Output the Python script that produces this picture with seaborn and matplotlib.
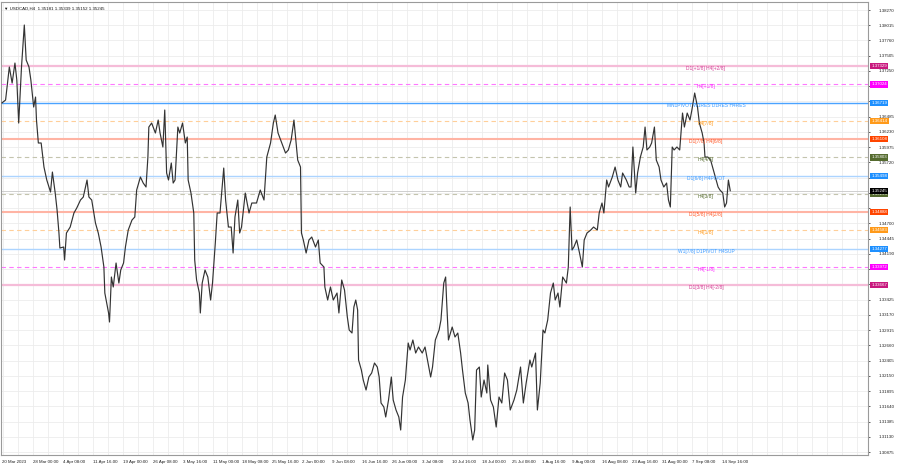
import matplotlib
matplotlib.use('Agg')
import matplotlib.pyplot as plt
import matplotlib.transforms as mtransforms
import seaborn as sns
import pandas as pd

# H4 bar number (0 = first bar on screen) and close
bars = [0, 4, 8, 11, 14, 16, 18, 21, 24, 26, 29, 31, 34, 36, 37, 39, 42, 45, 48, 52,
        54, 57, 59, 61, 62, 66, 67, 69, 73, 77, 80, 84, 87, 91, 93, 96, 100, 103, 106, 109,
        110, 114, 115, 117, 119, 122, 125, 127, 130, 132, 135, 139, 142, 144, 148, 151, 154, 156, 157, 160,
        164, 167, 169, 172, 174, 176, 178, 181, 183, 185, 188, 190, 193, 196, 198, 199, 202, 205, 206, 208,
        211, 212, 214, 217, 220, 223, 225, 228, 230, 233, 235, 237, 239, 242, 245, 247, 249, 252, 254, 256,
        260, 264, 267, 272, 276, 280, 283, 287, 290, 292, 295, 299, 303, 306, 309, 312, 314, 316, 319, 320,
        322, 325, 328, 331, 335, 338, 340, 344, 345, 348, 351, 354, 358, 360, 363, 366, 369, 371, 374, 376,
        378, 380, 381, 384, 386, 389, 392, 395, 398, 401, 403, 405, 408, 410, 413, 416, 418, 421, 424, 426,
        428, 431, 434, 436, 439, 442, 445, 449, 452, 454, 458, 460, 463, 467, 469, 472, 474, 475, 477, 481,
        484, 487, 490, 492, 495, 498, 500, 503, 505, 507, 510, 512, 515, 518,
        519, 522, 525, 528, 531, 534, 537, 540, 543, 547, 550, 554, 557, 560, 564, 566, 570, 572, 575, 578,
        580, 583, 586, 589, 591, 594, 596, 599, 603, 605, 607, 609, 611, 614, 617, 620, 622, 625, 629, 632,
        636, 638, 641, 643, 646, 648, 652, 655, 658, 661, 663, 667, 670, 672, 674, 677, 679, 682, 685, 687,
        689, 692, 694, 697, 699, 702, 704, 707, 710, 712, 714, 716, 718, 721, 724, 727, 729, 732, 735, 737,
        740, 743, 745, 748, 750, 751, 754, 757, 760, 762, 765, 767, 770, 772, 774, 776, 778]
closes = [1.36714, 1.36764, 1.37316, 1.37048, 1.37383, 1.37099, 1.36379, 1.37316, 1.38019, 1.37433,
          1.37316, 1.37099, 1.36647, 1.36814, 1.36429, 1.36045, 1.36045, 1.35643, 1.35426, 1.35225,
          1.35559, 1.35208, 1.34924, 1.34539, 1.34288, 1.34305, 1.34087, 1.34539, 1.34639, 1.34874,
          1.34957, 1.35091, 1.35141, 1.35426, 1.35141, 1.35091, 1.34706, 1.34539, 1.34305, 1.33970,
          1.33535, 1.33201, 1.33050, 1.33803, 1.33636, 1.34037, 1.33702, 1.33920, 1.34037, 1.34305,
          1.34589, 1.34756, 1.34807, 1.35258, 1.35476, 1.35375, 1.35309, 1.35810, 1.36312, 1.36379,
          1.36212, 1.36429, 1.36212, 1.35978, 1.36597, 1.35543, 1.35426, 1.35710, 1.35375, 1.35426,
          1.36312, 1.36212, 1.36379, 1.36045, 1.36145, 1.35426, 1.35208, 1.34874, 1.34087, 1.33753,
          1.33535, 1.33201, 1.33702, 1.33920, 1.33803, 1.33418, 1.33702, 1.34372, 1.34874, 1.34874,
          1.35258, 1.35626, 1.35091, 1.34639, 1.34639, 1.34204, 1.34807, 1.35091, 1.34539, 1.34639,
          1.35208, 1.34874, 1.35041, 1.35041, 1.35258, 1.35091, 1.35810, 1.36045, 1.36379, 1.36513,
          1.36212, 1.36045, 1.35877, 1.35928, 1.36095, 1.36429, 1.36095, 1.35760, 1.35643, 1.34539,
          1.34422, 1.34204, 1.34422, 1.34472, 1.34305, 1.34422, 1.34037, 1.33970, 1.33636, 1.33418,
          1.33636, 1.33418, 1.33535, 1.33201, 1.33753, 1.33585, 1.33134, 1.32916, 1.32866, 1.33301,
          1.33418, 1.33251, 1.32414, 1.32247, 1.32080, 1.31912, 1.32130, 1.32197, 1.32364, 1.32297,
          1.32130, 1.31695, 1.31628, 1.31461, 1.31745, 1.32130, 1.31745, 1.31578, 1.31461, 1.31243,
          1.31795, 1.32080, 1.32699, 1.32582, 1.32749, 1.32531, 1.32632, 1.32531, 1.32632, 1.32464,
          1.32130, 1.32297, 1.32749, 1.32916, 1.33083, 1.33702, 1.33803, 1.33418, 1.32749, 1.32966,
          1.32799, 1.32866, 1.32531, 1.32247, 1.31862, 1.31695, 1.31410, 1.31076, 1.31243, 1.32247,
          1.32297, 1.31795, 1.32080, 1.31862,
          1.32331, 1.31745, 1.31628, 1.31293, 1.31795, 1.31695, 1.32197, 1.32080, 1.31578, 1.31745,
          1.31912, 1.32297, 1.31695, 1.32029, 1.32414, 1.32297, 1.32531, 1.31578, 1.32029, 1.32916,
          1.32866, 1.33083, 1.33535, 1.33702, 1.33418, 1.33535, 1.33301, 1.33803, 1.33702, 1.33970,
          1.34974, 1.34255, 1.34305, 1.34422, 1.34204, 1.33970, 1.34422, 1.34539, 1.34589, 1.34639,
          1.34589, 1.34874, 1.35041, 1.34874, 1.35426, 1.35309, 1.35476, 1.35643, 1.35426, 1.35309,
          1.35543, 1.35426, 1.35309, 1.35309, 1.35978, 1.35208, 1.35543, 1.35810, 1.35978, 1.36312,
          1.35928, 1.35978, 1.36045, 1.36312, 1.35760, 1.35643, 1.35426, 1.35309, 1.35375, 1.35091,
          1.34974, 1.35978, 1.35928, 1.35978, 1.35928, 1.36546, 1.36312, 1.36546, 1.36429, 1.36597,
          1.36881, 1.36647, 1.36379, 1.36212, 1.36045, 1.35810, 1.35810, 1.35760, 1.35593, 1.35476,
          1.35309, 1.35258, 1.35208, 1.34974, 1.35041, 1.35426, 1.35245]

last_price = 1.35245
header = 'USDCAD,H4  1.35181 1.35339 1.35152 1.35245'

level_prices = [1.37329, 1.37024, 1.36719, 1.36414, 1.36108, 1.35803, 1.35498,
                1.35193, 1.34888, 1.34583, 1.34277, 1.33972, 1.33667]
level_names = ['D1[+1/8] H4[+2/8]', 'H4[+1/8]', 'MN1PIVOT W1RES D1RES H4RES', 'H4[7/8]',
               'D1[7/8] H4[6/8]', 'H4[4/8]', 'D1[6/8] H4PIVOT', 'H4[3/8]', 'D1[5/8] H4[2/8]',
               'H4[1/8]', 'W1[7/8] D1PIVOT H4SUP', 'H4[-1/8]', 'D1[3/8] H4[-2/8]']
level_kinds = ['pink', 'magenta', 'pivot', 'orange', 'red', 'olive', 'blue',
               'olive', 'red', 'orange', 'blue', 'magenta', 'pink']

date_labels = ['28 Mar 00:00', '4 Apr 08:00', '11 Apr 16:00', '19 Apr 00:00', '26 Apr 08:00',
               '3 May 16:00', '11 May 00:00', '18 May 08:00', '25 May 16:00', '2 Jun 00:00',
               '9 Jun 08:00', '16 Jun 16:00', '26 Jun 00:00', '3 Jul 08:00', '10 Jul 16:00',
               '18 Jul 00:00', '25 Jul 08:00', '1 Aug 16:00', '9 Aug 00:00', '16 Aug 08:00',
               '23 Aug 16:00', '31 Aug 00:00', '7 Sep 08:00', '14 Sep 16:00']

# line colour, line style, width, label colour, axis box colour
styles = {
    'pink':    ('#f5bcd8', '-', 1.6, '#d43c94', '#c8197e'),
    'magenta': ('#ff77ff', (0, (4, 3)), 0.8, '#ff22ff', '#ff00ff'),
    'pivot':   ('#4aa3ff', '-', 1.0, '#3d9bff', '#1e90ff'),
    'orange':  ('#ffcf99', (0, (4, 3)), 0.8, '#ff9a1a', '#ff9a1a'),
    'red':     ('#ffb4a4', '-', 1.5, '#ff5a2a', '#ff4500'),
    'olive':   ('#c4c4ae', (0, (4, 3)), 0.8, '#556b2f', '#556b2f'),
    'blue':    ('#acd4ff', '-', 1.0, '#3d9bff', '#1e90ff'),
}

sns.set_style('white')
plt.rcParams['font.family'] = ['Liberation Sans', 'DejaVu Sans']

df = pd.DataFrame({'bar': bars, 'close': closes})

fig = plt.figure(figsize=(9, 4.68), dpi=100)
ax = fig.add_axes([0.001, 13 / 468, 867 / 900, 453 / 468])
ax.set_xlim(-1, 925)
ax.set_ylim(1.30825, 1.38404)

price_ticks = [round(1.38270 - 0.00255 * k, 5) for k in range(30)]
box_prices = level_prices + [last_price]
ax.set_yticks(price_ticks)
# the coloured price boxes hide the scale labels right next to them
ax.set_yticklabels(['' if min(abs(p - b) for b in box_prices) < 0.0007 else '%.5f' % p
                    for p in price_ticks])
ax.yaxis.tick_right()
ax.tick_params(axis='y', length=1.5, width=0.5, pad=6, labelsize=3.2, colors='#222222')

tick_pos = [0] + [33 + 32 * i for i in range(len(date_labels))]
ax.set_xticks(tick_pos)
ax.set_xticklabels(['20 Mar 2023'] + date_labels, ha='left')
ax.tick_params(axis='x', length=1.5, width=0.5, pad=2, labelsize=3.2, colors='#222222')

# grid
for b in range(1, 925, 16):
    ax.axvline(b, color='#ececec', lw=0.6, zorder=0)
for p in price_ticks:
    ax.axhline(p, color='#ececec', lw=0.6, zorder=0)

for s in ax.spines.values():
    s.set_color('#9a9a9a')
    s.set_linewidth(0.8)

# levels
for price, name, kind in zip(level_prices, level_names, level_kinds):
    lc, ls, lw, tc, bc = styles[kind]
    ax.axhline(price, color=lc, ls=ls, lw=lw, zorder=1)
    ax.text(752, price, name, color=tc, fontsize=3.5, ha='center', va='top', zorder=4)

ax.axhline(last_price, color='#c8c8c8', lw=0.6, zorder=1)

sns.lineplot(data=df, x='bar', y='close', ax=ax, color='#333333', lw=0.85, zorder=3)
ax.set_xlabel('')
ax.set_ylabel('')

trans = mtransforms.blended_transform_factory(ax.transAxes, ax.transData)
for price, kind in zip(level_prices, level_kinds):
    bc = styles[kind][4]
    ax.text(1.004, price, '%.5f' % price, transform=trans, fontsize=3.2, color='white',
            ha='left', va='center', zorder=10, clip_on=False,
            bbox=dict(boxstyle='square,pad=0.25', fc=bc, ec='none'))
ax.text(1.004, last_price, '%.5f' % last_price, transform=trans, fontsize=3.2, color='white',
        ha='left', va='center', zorder=11, clip_on=False,
        bbox=dict(boxstyle='square,pad=0.25', fc='black', ec='none'))

ax.text(0.004, 0.99, '\u25BC ' + header, transform=ax.transAxes, fontsize=3.2,
        color='#111111', ha='left', va='top', zorder=10)

fig.savefig('out.png', dpi=100)
